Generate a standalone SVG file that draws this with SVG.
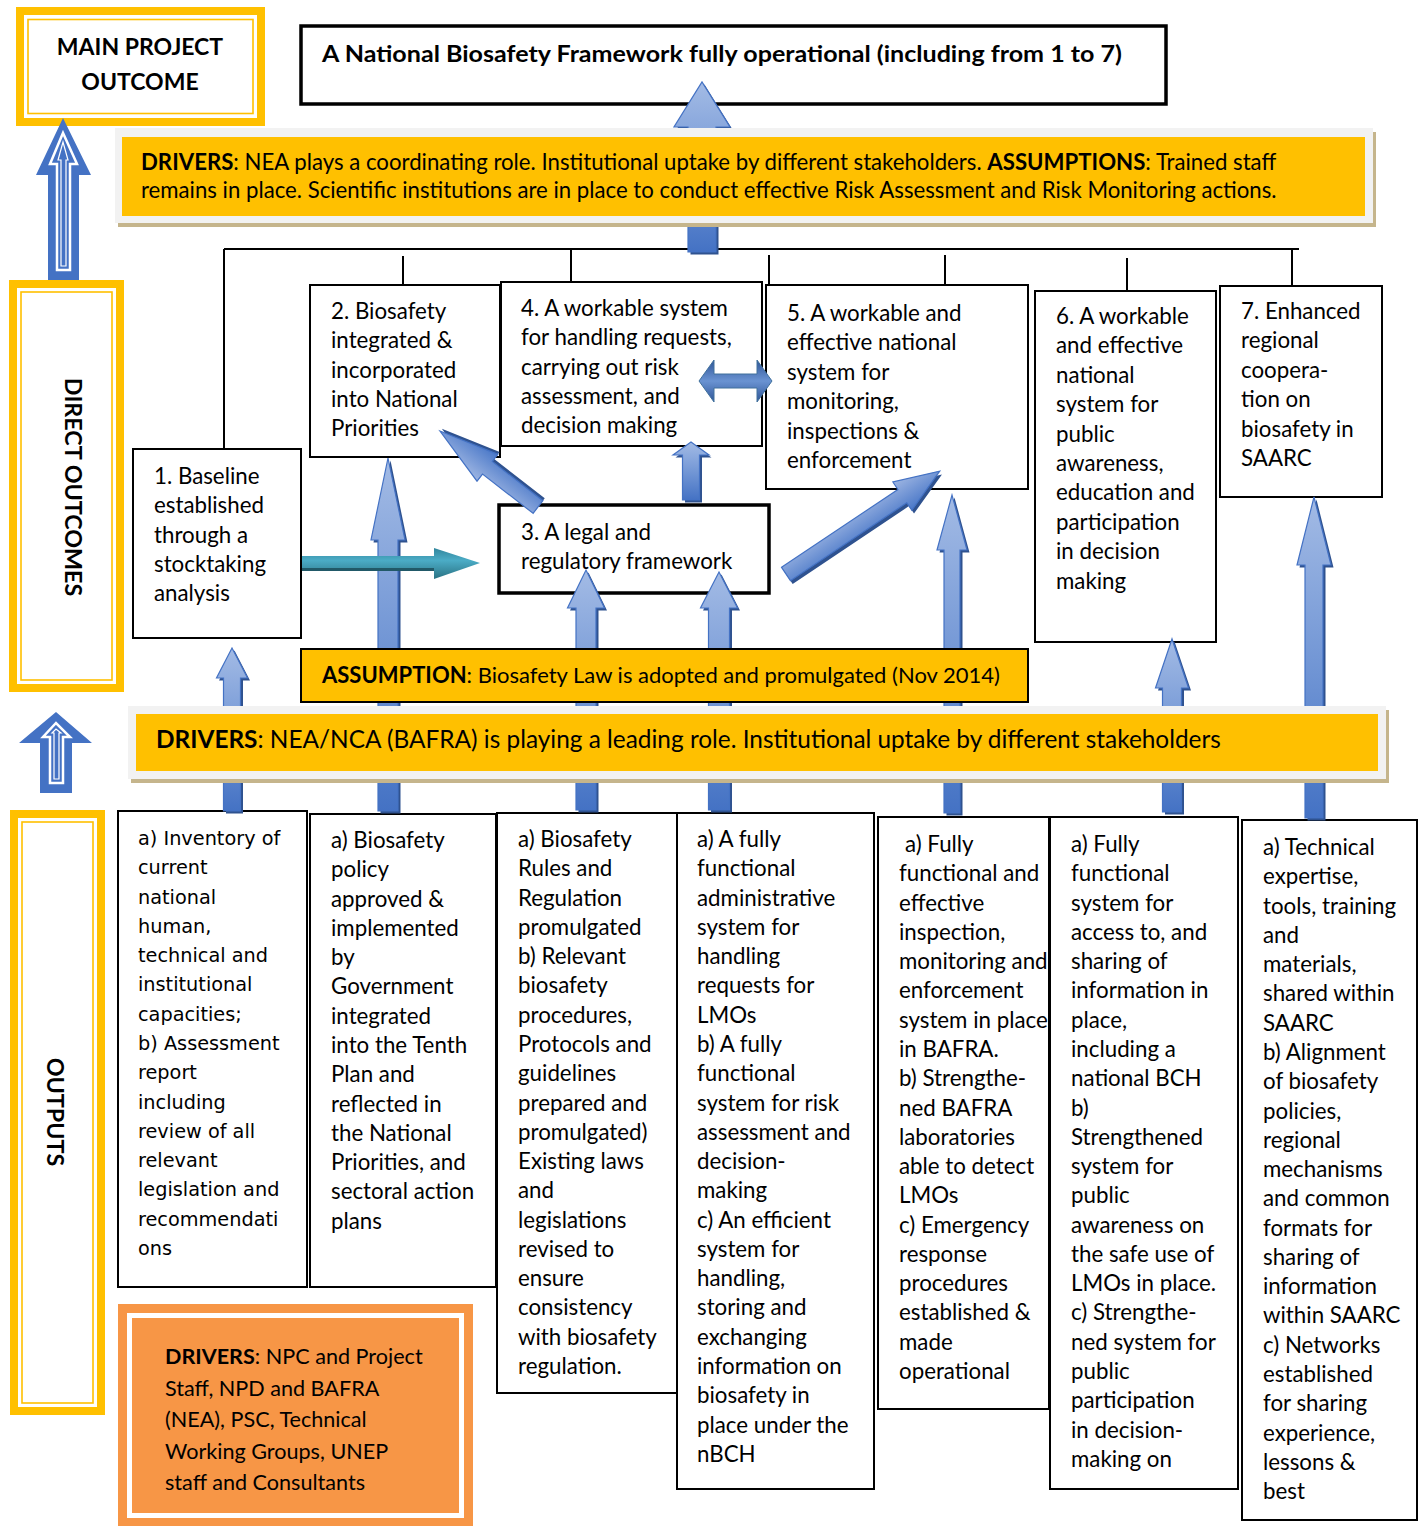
<svg xmlns="http://www.w3.org/2000/svg" width="1418" height="1526" viewBox="0 0 1418 1526">
<defs>
<linearGradient id="gB" x1="0" y1="0" x2="0" y2="1">
<stop offset="0" stop-color="#a3bbe5"/><stop offset="0.55" stop-color="#6f94d4"/><stop offset="1" stop-color="#4472c4"/>
</linearGradient>
<linearGradient id="gD" x1="0" y1="0" x2="0" y2="1">
<stop offset="0" stop-color="#9db5e2"/><stop offset="1" stop-color="#4a78c8"/>
</linearGradient>
<linearGradient id="gT" x1="0" y1="0" x2="0" y2="1">
<stop offset="0" stop-color="#31859c"/><stop offset="0.4" stop-color="#4bacc6"/><stop offset="1" stop-color="#2a7283"/>
</linearGradient>
<linearGradient id="gW" x1="0" y1="0" x2="0" y2="1">
<stop offset="0" stop-color="#2f5597"/><stop offset="0.5" stop-color="#6a93d2"/><stop offset="1" stop-color="#2f5597"/>
</linearGradient>
</defs>
<style>
.bx{fill:#fff;stroke:#000;stroke-width:2}
.t{font-family:Lato,"Liberation Sans",sans-serif;font-size:22.3px;fill:#000}
.v{font-family:"DejaVu Sans",Verdana,sans-serif;font-size:19.3px;fill:#000}
.b{font-weight:bold}
.ln{stroke:#000;stroke-width:2;fill:none}
.or{fill:#ffc000}
.wh{fill:#fff}
.thin{fill:none;stroke:#ffc000;stroke-width:1.6}
.ar{fill:url(#gB);stroke:#4472c4;stroke-width:1.2}
.sh{fill:#2f528f}
.la{fill:#4472c4}
.li{fill:none;stroke:#fff;stroke-width:2.5}
.li2{fill:none;stroke:#fff;stroke-width:1.2}
.grey{fill:#f2f2f2}
.tan{fill:#c5b58c}
</style>

<!-- Left labels -->
<g id="label-main">
<rect x="16" y="7" width="249" height="119" class="or"/>
<rect x="24" y="15" width="233" height="103" class="wh"/>
<rect x="28" y="19.5" width="225" height="94" class="thin"/>
<text class="t b" x="140" y="55" text-anchor="middle" style="font-size:23px">MAIN PROJECT</text>
<text class="t b" x="140" y="90" text-anchor="middle" style="font-size:23px">OUTCOME</text>
</g>
<g id="label-direct">
<rect x="9" y="280" width="115" height="412" class="or"/>
<rect x="17" y="288" width="99" height="396" class="wh"/>
<rect x="21" y="292" width="91" height="388" class="thin"/>
<text class="t b" transform="translate(65,487) rotate(90)" text-anchor="middle" style="font-size:23.3px">DIRECT OUTCOMES</text>
</g>
<g id="label-outputs">
<rect x="10" y="810" width="95" height="605" class="or"/>
<rect x="18" y="818" width="79" height="589" class="wh"/>
<rect x="22" y="822" width="71" height="581" class="thin"/>
<text class="t b" transform="translate(47,1112) rotate(90)" text-anchor="middle" style="font-size:23.3px">OUTPUTS</text>
</g>

<!-- Level arrows on the left -->
<g id="level-arrows">
<polygon class="la" points="48,280 48,175 36,175 63,118 91,175 79,175 79,280"/>
<polygon class="li" points="57,270 57,164 50,164 63,133 77,164 70,164 70,270"/>
<polygon class="li2" points="61,266 61,160 58,160 63,142 68,160 66,160 66,266"/>
<polygon class="la" points="40,793 40,743 19,743 56,712 92,743 72,743 72,793"/>
<polygon class="li" points="50,783 50,737 43,737 56,723 70,737 63,737 63,783"/>
<polygon class="li2" points="54,779 54,733 52,733 56,729 61,733 59,733 59,779"/>
</g>

<!-- Title -->
<g id="title">
<rect x="301" y="26" width="865" height="78" fill="#fff" stroke="#000" stroke-width="3.5"/>
<text class="t b" x="322" y="62" textLength="800" lengthAdjust="spacingAndGlyphs" style="font-size:23px">A National Biosafety Framework fully operational (including from 1 to 7)</text>
</g>

<!-- Direct outcomes -->
<g id="outcome-1">
<rect x="133" y="449" width="168" height="189" class="bx"/>
<text class="t"><tspan x="154" y="484">1. Baseline</tspan><tspan x="154" dy="29.25">established</tspan><tspan x="154" dy="29.25">through a</tspan><tspan x="154" dy="29.25">stocktaking</tspan><tspan x="154" dy="29.25">analysis</tspan></text>
</g>
<g id="outcome-2">
<rect x="310" y="285" width="190" height="172" class="bx"/>
<text class="t"><tspan x="331" y="319">2. Biosafety</tspan><tspan x="331" dy="29.25">integrated &amp;</tspan><tspan x="331" dy="29.25">incorporated</tspan><tspan x="331" dy="29.25">into National</tspan><tspan x="331" dy="29.25">Priorities</tspan></text>
</g>
<g id="outcome-4">
<rect x="501" y="282" width="261" height="164" class="bx"/>
<text class="t"><tspan x="521" y="316">4. A workable system</tspan><tspan x="521" dy="29.25">for handling requests,</tspan><tspan x="521" dy="29.25">carrying out risk</tspan><tspan x="521" dy="29.25">assessment, and</tspan><tspan x="521" dy="29.25">decision making</tspan></text>
</g>
<g id="outcome-5">
<rect x="766" y="285" width="262" height="204" class="bx"/>
<text class="t"><tspan x="787" y="321">5. A workable and</tspan><tspan x="787" dy="29.4">effective national</tspan><tspan x="787" dy="29.4">system for</tspan><tspan x="787" dy="29.4">monitoring,</tspan><tspan x="787" dy="29.4">inspections &amp;</tspan><tspan x="787" dy="29.4">enforcement</tspan></text>
</g>
<g id="outcome-6">
<rect x="1035" y="291" width="181" height="351" class="bx"/>
<text class="t"><tspan x="1056" y="324">6. A workable</tspan><tspan x="1056" dy="29.4">and effective</tspan><tspan x="1056" dy="29.4">national</tspan><tspan x="1056" dy="29.4">system for</tspan><tspan x="1056" dy="29.4">public</tspan><tspan x="1056" dy="29.4">awareness,</tspan><tspan x="1056" dy="29.4">education and</tspan><tspan x="1056" dy="29.4">participation</tspan><tspan x="1056" dy="29.4">in decision</tspan><tspan x="1056" dy="29.4">making</tspan></text>
</g>
<g id="outcome-7">
<rect x="1220" y="286" width="162" height="211" class="bx"/>
<text class="t"><tspan x="1241" y="319">7. Enhanced</tspan><tspan x="1241" dy="29.4">regional</tspan><tspan x="1241" dy="29.4">coopera-</tspan><tspan x="1241" dy="29.4">tion on</tspan><tspan x="1241" dy="29.4">biosafety in</tspan><tspan x="1241" dy="29.4">SAARC</tspan></text>
</g>
<g id="outcome-3">
<rect x="499" y="505" width="270" height="88" fill="#fff" stroke="#000" stroke-width="3.5"/>
<text class="t"><tspan x="521" y="540">3. A legal and</tspan><tspan x="521" dy="29.25">regulatory framework</tspan></text>
</g>

<!-- Outputs -->
<g id="output-1">
<rect x="118" y="811" width="189" height="476" class="bx"/>
<text class="v"><tspan x="138" y="845">a) Inventory of</tspan><tspan x="138" dy="29.28">current</tspan><tspan x="138" dy="29.28">national</tspan><tspan x="138" dy="29.28">human,</tspan><tspan x="138" dy="29.28">technical and</tspan><tspan x="138" dy="29.28">institutional</tspan><tspan x="138" dy="29.28">capacities;</tspan><tspan x="138" dy="29.28">b) Assessment</tspan><tspan x="138" dy="29.28">report</tspan><tspan x="138" dy="29.28">including</tspan><tspan x="138" dy="29.28">review of all</tspan><tspan x="138" dy="29.28">relevant</tspan><tspan x="138" dy="29.28">legislation and</tspan><tspan x="138" dy="29.28">recommendati</tspan><tspan x="138" dy="29.28">ons</tspan></text>
</g>
<g id="output-2">
<rect x="310" y="814" width="186" height="473" class="bx"/>
<text class="t"><tspan x="331" y="848">a) Biosafety</tspan><tspan x="331" dy="29.28">policy</tspan><tspan x="331" dy="29.28">approved &amp;</tspan><tspan x="331" dy="29.28">implemented</tspan><tspan x="331" dy="29.28">by</tspan><tspan x="331" dy="29.28">Government</tspan><tspan x="331" dy="29.28">integrated</tspan><tspan x="331" dy="29.28">into the Tenth</tspan><tspan x="331" dy="29.28">Plan and</tspan><tspan x="331" dy="29.28">reflected in</tspan><tspan x="331" dy="29.28">the National</tspan><tspan x="331" dy="29.28">Priorities, and</tspan><tspan x="331" dy="29.28">sectoral action</tspan><tspan x="331" dy="29.28">plans</tspan></text>
</g>
<g id="output-3">
<rect x="497" y="813" width="180" height="580" class="bx"/>
<text class="t"><tspan x="518" y="847">a) Biosafety</tspan><tspan x="518" dy="29.28">Rules and</tspan><tspan x="518" dy="29.28">Regulation</tspan><tspan x="518" dy="29.28">promulgated</tspan><tspan x="518" dy="29.28">b) Relevant</tspan><tspan x="518" dy="29.28">biosafety</tspan><tspan x="518" dy="29.28">procedures,</tspan><tspan x="518" dy="29.28">Protocols and</tspan><tspan x="518" dy="29.28">guidelines</tspan><tspan x="518" dy="29.28">prepared and</tspan><tspan x="518" dy="29.28">promulgated)</tspan><tspan x="518" dy="29.28">Existing laws</tspan><tspan x="518" dy="29.28">and</tspan><tspan x="518" dy="29.28">legislations</tspan><tspan x="518" dy="29.28">revised to</tspan><tspan x="518" dy="29.28">ensure</tspan><tspan x="518" dy="29.28">consistency</tspan><tspan x="518" dy="29.28">with biosafety</tspan><tspan x="518" dy="29.28">regulation.</tspan></text>
</g>
<g id="output-4">
<rect x="677" y="813" width="197" height="676" class="bx"/>
<text class="t"><tspan x="697" y="847">a) A fully</tspan><tspan x="697" dy="29.28">functional</tspan><tspan x="697" dy="29.28">administrative</tspan><tspan x="697" dy="29.28">system for</tspan><tspan x="697" dy="29.28">handling</tspan><tspan x="697" dy="29.28">requests for</tspan><tspan x="697" dy="29.28">LMOs</tspan><tspan x="697" dy="29.28">b) A fully</tspan><tspan x="697" dy="29.28">functional</tspan><tspan x="697" dy="29.28">system for risk</tspan><tspan x="697" dy="29.28">assessment and</tspan><tspan x="697" dy="29.28">decision-</tspan><tspan x="697" dy="29.28">making</tspan><tspan x="697" dy="29.28">c) An efficient</tspan><tspan x="697" dy="29.28">system for</tspan><tspan x="697" dy="29.28">handling,</tspan><tspan x="697" dy="29.28">storing and</tspan><tspan x="697" dy="29.28">exchanging</tspan><tspan x="697" dy="29.28">information on</tspan><tspan x="697" dy="29.28">biosafety in</tspan><tspan x="697" dy="29.28">place under the</tspan><tspan x="697" dy="29.28">nBCH</tspan></text>
</g>
<g id="output-5">
<rect x="878" y="817" width="171" height="592" class="bx"/>
<text class="t"><tspan x="905" y="852">a) Fully</tspan><tspan x="899" dy="29.28">functional and</tspan><tspan x="899" dy="29.28">effective</tspan><tspan x="899" dy="29.28">inspection,</tspan><tspan x="899" dy="29.28">monitoring and</tspan><tspan x="899" dy="29.28">enforcement</tspan><tspan x="899" dy="29.28">system in place</tspan><tspan x="899" dy="29.28">in BAFRA.</tspan><tspan x="899" dy="29.28">b) Strengthe-</tspan><tspan x="899" dy="29.28">ned BAFRA</tspan><tspan x="899" dy="29.28">laboratories</tspan><tspan x="899" dy="29.28">able to detect</tspan><tspan x="899" dy="29.28">LMOs</tspan><tspan x="899" dy="29.28">c) Emergency</tspan><tspan x="899" dy="29.28">response</tspan><tspan x="899" dy="29.28">procedures</tspan><tspan x="899" dy="29.28">established &amp;</tspan><tspan x="899" dy="29.28">made</tspan><tspan x="899" dy="29.28">operational</tspan></text>
</g>
<g id="output-6">
<rect x="1050" y="817" width="188" height="672" class="bx"/>
<text class="t"><tspan x="1071" y="852">a) Fully</tspan><tspan x="1071" dy="29.28">functional</tspan><tspan x="1071" dy="29.28">system for</tspan><tspan x="1071" dy="29.28">access to, and</tspan><tspan x="1071" dy="29.28">sharing of</tspan><tspan x="1071" dy="29.28">information in</tspan><tspan x="1071" dy="29.28">place,</tspan><tspan x="1071" dy="29.28">including a</tspan><tspan x="1071" dy="29.28">national BCH</tspan><tspan x="1071" dy="29.28">b)</tspan><tspan x="1071" dy="29.28">Strengthened</tspan><tspan x="1071" dy="29.28">system for</tspan><tspan x="1071" dy="29.28">public</tspan><tspan x="1071" dy="29.28">awareness on</tspan><tspan x="1071" dy="29.28">the safe use of</tspan><tspan x="1071" dy="29.28">LMOs in place.</tspan><tspan x="1071" dy="29.28">c) Strengthe-</tspan><tspan x="1071" dy="29.28">ned system for</tspan><tspan x="1071" dy="29.28">public</tspan><tspan x="1071" dy="29.28">participation</tspan><tspan x="1071" dy="29.28">in decision-</tspan><tspan x="1071" dy="29.28">making on</tspan></text>
</g>
<g id="output-7">
<rect x="1242" y="820" width="175" height="700" class="bx"/>
<text class="t"><tspan x="1263" y="855">a) Technical</tspan><tspan x="1263" dy="29.28">expertise,</tspan><tspan x="1263" dy="29.28">tools, training</tspan><tspan x="1263" dy="29.28">and</tspan><tspan x="1263" dy="29.28">materials,</tspan><tspan x="1263" dy="29.28">shared within</tspan><tspan x="1263" dy="29.28">SAARC</tspan><tspan x="1263" dy="29.28">b) Alignment</tspan><tspan x="1263" dy="29.28">of biosafety</tspan><tspan x="1263" dy="29.28">policies,</tspan><tspan x="1263" dy="29.28">regional</tspan><tspan x="1263" dy="29.28">mechanisms</tspan><tspan x="1263" dy="29.28">and common</tspan><tspan x="1263" dy="29.28">formats for</tspan><tspan x="1263" dy="29.28">sharing of</tspan><tspan x="1263" dy="29.28">information</tspan><tspan x="1263" dy="29.28">within SAARC</tspan><tspan x="1263" dy="29.28">c) Networks</tspan><tspan x="1263" dy="29.28">established</tspan><tspan x="1263" dy="29.28">for sharing</tspan><tspan x="1263" dy="29.28">experience,</tspan><tspan x="1263" dy="29.28">lessons &amp;</tspan><tspan x="1263" dy="29.28">best</tspan></text>
</g>

<!-- Connectors -->
<g id="connectors">
<path class="ln" d="M224,249 H1299 M224,249 V449 M403,256 V285 M571,249 V282 M769,255 V285 M945,255 V285 M1127,258 V291 M1292,249 V286"/>
<g transform="translate(2.5,2.5)">
<polygon class="sh" points="688,252 688,127 674,127 702,82 730,127 716,127 716,252"/>
<polygon class="sh" points="223.5,811 223.5,678 216.5,678 232,648 247.5,678 240.5,678 240.5,811"/>
<polygon class="sh" points="378,811 378,540 371,540 388,458 405,540 398,540 398,811"/>
<polygon class="sh" points="576,810 576,608 567.5,608 586,570 604.5,608 596,608 596,810"/>
<polygon class="sh" points="708.5,810 708.5,608 700.5,608 719,572 737.5,608 729.5,608 729.5,810"/>
<polygon class="sh" points="944,813 944,550 937,550 952,495 967,550 960,550 960,813"/>
<polygon class="sh" points="1162.5,812 1162.5,688 1155.5,688 1172,639 1188.5,688 1181.5,688 1181.5,812"/>
<polygon class="sh" points="1305,818 1305,565 1297,565 1314,497 1331,565 1323,565 1323,818"/>
<polygon class="sh" points="682.5,500 682.5,455 673,455 691,442 709,455 699.5,455 699.5,500"/>
</g>
<polygon class="ar" points="688,252 688,127 674,127 702,82 730,127 716,127 716,252"/>
<polygon class="ar" points="223.5,811 223.5,678 216.5,678 232,648 247.5,678 240.5,678 240.5,811"/>
<polygon class="ar" points="378,811 378,540 371,540 388,458 405,540 398,540 398,811"/>
<polygon class="ar" points="576,810 576,608 567.5,608 586,570 604.5,608 596,608 596,810"/>
<polygon class="ar" points="708.5,810 708.5,608 700.5,608 719,572 737.5,608 729.5,608 729.5,810"/>
<polygon class="ar" points="944,813 944,550 937,550 952,495 967,550 960,550 960,813"/>
<polygon class="ar" points="1162.5,812 1162.5,688 1155.5,688 1172,639 1188.5,688 1181.5,688 1181.5,812"/>
<polygon class="ar" points="1305,818 1305,565 1297,565 1314,497 1331,565 1323,565 1323,818"/>
<polygon class="ar" points="682.5,500 682.5,455 673,455 691,442 709,455 699.5,455 699.5,500"/>
<!-- diagonal arrows -->
<g transform="translate(538,507) rotate(217.8)">
<polygon class="sh" transform="translate(0,3)" points="0,-8 64,-8 64,-17 124,0 64,17 64,8 0,8"/>
<polygon fill="url(#gD)" stroke="#4472c4" stroke-width="1.2" points="0,-8 64,-8 64,-17 124,0 64,17 64,8 0,8"/>
</g>
<g transform="translate(786,574) rotate(-33.8)">
<polygon class="sh" transform="translate(0,4)" points="0,-8 140,-8 140,-17 185,0 140,17 140,8 0,8"/>
<polygon fill="url(#gD)" stroke="#4472c4" stroke-width="1.2" points="0,-8 140,-8 140,-17 185,0 140,17 140,8 0,8"/>
</g>
<!-- double arrow 4 <-> 5 -->
<polygon fill="url(#gW)" stroke="#41719c" stroke-width="1" points="699,381 714,360 714,374 757,374 757,360 772,381 757,402 757,388 714,388 714,402"/>
<!-- teal arrow 1 -> 3 -->
<polygon fill="url(#gT)" points="302,556 434,556 434,548 480,563 434,579 434,571 302,571"/>
<polygon fill="#215968" points="302,568 434,568 434,571 302,571"/>
</g>

<!-- Banners -->
<g id="drivers-top">
<rect x="118" y="132" width="1258" height="95" class="tan"/>
<rect x="115" y="128" width="1258" height="95" class="grey"/>
<rect x="122" y="137" width="1243" height="79" class="or"/>
<text class="t" style="font-size:22.2px" x="141" y="170"><tspan class="b">DRIVERS</tspan>: NEA plays a coordinating role. Institutional uptake by different stakeholders. <tspan class="b">ASSUMPTIONS</tspan>:  Trained staff</text>
<text class="t" style="font-size:22.2px" x="141" y="198">remains in place. Scientific institutions are in place to conduct effective Risk Assessment and Risk Monitoring actions.</text>
</g>
<g id="assumption">
<rect x="301" y="649" width="727" height="53" fill="#ffc000" stroke="#000" stroke-width="2"/>
<text class="t" style="font-size:22px" x="322" y="683"><tspan class="b">ASSUMPTION</tspan>: Biosafety Law is adopted and promulgated (Nov 2014)</text>
</g>
<g id="drivers-mid">
<rect x="131" y="710" width="1258" height="73" class="tan"/>
<rect x="128" y="706" width="1258" height="73" class="grey"/>
<rect x="136" y="714" width="1242" height="57" class="or"/>
<text class="t" style="font-size:24.4px" x="156" y="748"><tspan class="b">DRIVERS</tspan>: NEA/NCA (BAFRA) is playing a leading role. Institutional uptake by different stakeholders</text>
</g>
<g id="drivers-bottom">
<rect x="118" y="1304" width="355" height="222" fill="#f79646"/>
<rect x="129.5" y="1315.5" width="332" height="200" fill="none" stroke="#fff" stroke-width="5"/>
<text class="t" style="font-size:21.6px"><tspan x="165" y="1364"><tspan class="b">DRIVERS</tspan>: NPC and Project</tspan><tspan x="165" dy="31.6">Staff, NPD and BAFRA</tspan><tspan x="165" dy="31.6">(NEA), PSC, Technical</tspan><tspan x="165" dy="31.6">Working Groups, UNEP</tspan><tspan x="165" dy="31.6">staff and Consultants</tspan></text>
</g>
</svg>
